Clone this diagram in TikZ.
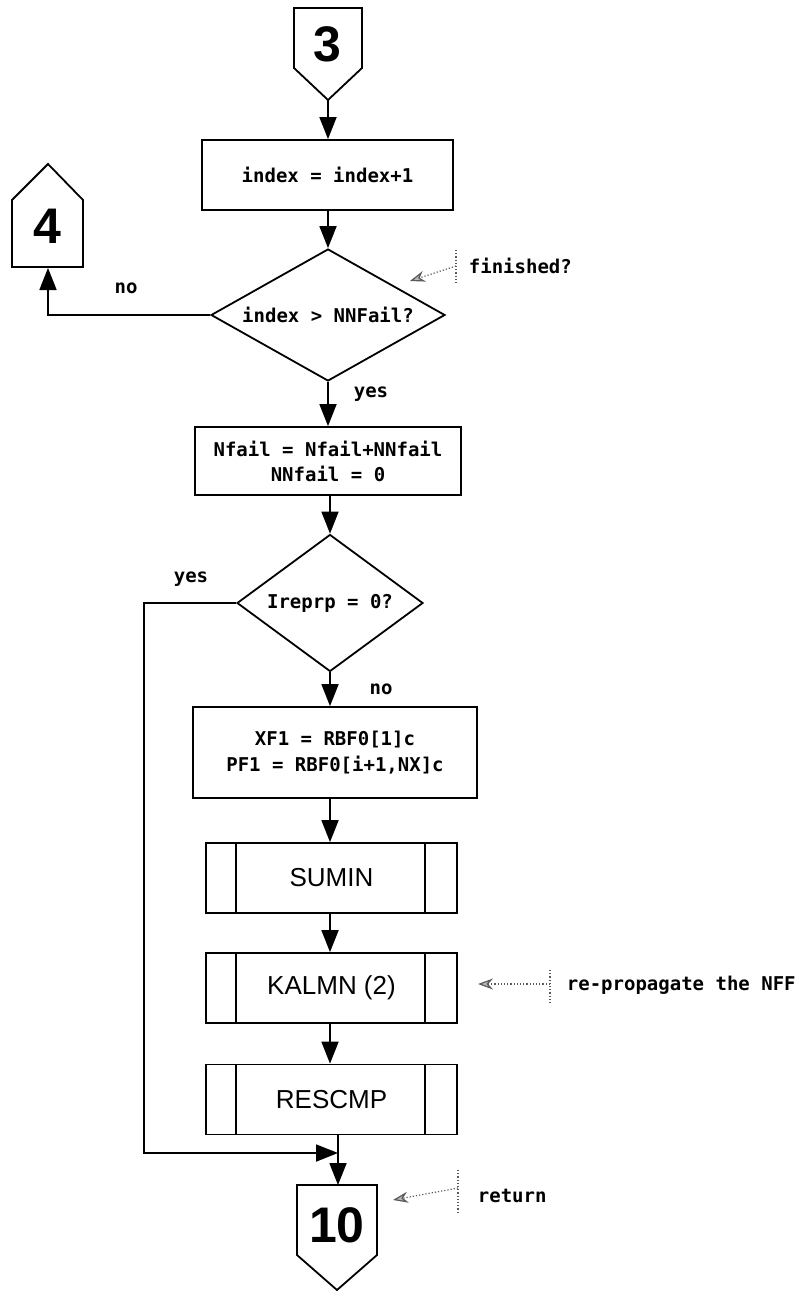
\documentclass[tikz,border=0pt]{standalone}
\usepackage{fontspec}
\newfontfamily\codefont{DejaVu Sans Mono}
\newfontfamily\labelfont{Liberation Sans}
\usetikzlibrary{arrows.meta,shapes.geometric}
\begin{document}
\begin{tikzpicture}[x=1pt,y=-1pt,
  line width=1.8pt,
  flow/.style={-{Triangle[length=22pt,width=17pt]}},
  note/.style={dotted,line width=1.2pt,gray!70!black,-{Stealth[length=15pt,width=11pt,fill=gray!55]}},
  tick/.style={dotted,line width=1.2pt,gray!70!black},
  code/.style={font=\codefont\bfseries\fontsize{19}{24}\selectfont,align=center},
  ann/.style={code,anchor=west,inner sep=0pt},
  proc/.style={draw,code,inner sep=0pt},
  sub/.style={draw,inner sep=0pt,minimum width=251pt,minimum height=70pt,
              font=\labelfont\fontsize{26}{30}\selectfont},
  dec/.style={draw,diamond,code,inner sep=0pt},
  conn/.style={font=\labelfont\bfseries\fontsize{50}{50}\selectfont,inner sep=0pt}]
\useasboundingbox (0,0) rectangle (806,1292);

% off-page connector 3 (entry)
\draw (294,8) -- (362,8) -- (362,68) -- (328,100) -- (294,68) -- cycle;
\node[conn] (c3) at (327,44) {3};
\coordinate (c3tip) at (328,100);

% index increment
\node[proc,minimum width=251pt,minimum height=70pt] (idx) at (327.5,175) {index = index+1};

% loop test
\node[dec,minimum width=234pt,minimum height=132pt,shape aspect=1.77] (d1) at (328,315) {index > NNFail?};

% off-page connector 4
\draw (12,200) -- (48,164) -- (83,200) -- (83,267) -- (12,267) -- cycle;
\node[conn] (c4) at (47,226) {4};
\coordinate (c4bot) at (48,268);
\node[code,inner sep=0pt] (no1) at (126,288) {no};

% annotation: finished?
\coordinate (fintip) at (410,281);
\coordinate (finend) at (456,266);
\coordinate (fintop) at (456,250);
\coordinate (finbot) at (456,284);
\draw[note] (finend) -- (fintip);
\draw[tick] (fintop) -- (finbot);
\node[ann] (fin) at (468,266) {finished?};

% accumulate failures
\node[proc,minimum width=266pt,minimum height=68pt] (acc) at (328,461)
  {Nfail = Nfail+NNfail\\[1pt]NNfail = 0};
\node[code,inner sep=0pt] (yes1) at (371,394) {yes};

% reprocessing test
\node[dec,minimum width=186pt,minimum height=137pt,shape aspect=1.36] (d2) at (330,603) {Ireprp = 0?};
\node[code,inner sep=0pt] (yes2) at (191,579) {yes};
\node[code,inner sep=0pt] (no2) at (381,689) {no};

% initial values
\node[proc,minimum width=284pt,minimum height=91pt] (init) at (335,752.5)
  {XF1 = RBF0[1]c\\[2pt]PF1 = RBF0[i+1,NX]c};

% subprocess calls
\node[sub] (sumin) at (331.5,878) {SUMIN};
\node[sub] (kalmn) at (331.5,988) {KALMN (2)};
\node[sub] (rescmp) at (331.5,1099.5) {RESCMP};
\foreach \n in {sumin,kalmn,rescmp}{
  \draw ([xshift=31pt]\n.north west) -- ([xshift=31pt]\n.south west);
  \draw ([xshift=-33pt]\n.north east) -- ([xshift=-33pt]\n.south east);
}

% annotation: re-propagate
\coordinate (kaltip) at (478,984);
\coordinate (kalend) at (550,984);
\coordinate (kaltop) at (550,970);
\coordinate (kalbot) at (550,1003);
\draw[note] (kalend) -- (kaltip);
\draw[tick] (kaltop) -- (kalbot);
\node[ann] (kalnote) at (566,985) {re-propagate the NFF};

% off-page connector 10 (return)
\draw (297,1185) -- (377,1185) -- (377,1255) -- (337,1290) -- (297,1255) -- cycle;
\node[conn] (c10) at (337,1225) {10};
\coordinate (c10top) at (338,1185);

% annotation: return
\coordinate (rettip) at (393,1200);
\coordinate (retend) at (458,1188);
\coordinate (rettop) at (458,1170);
\coordinate (retbot) at (458,1213);
\draw[note] (retend) -- (rettip);
\draw[tick] (rettop) -- (retbot);
\node[ann] (retnote) at (477,1196) {return};

% flow connectors
\draw[flow] (c3tip) -- (idx.north -| c3tip);
\draw[flow] (idx.south -| d1.north) -- (d1.north);
\draw[flow] (d1.west) -| (c4bot);
\draw[flow] (d1.south) -- (acc.north -| d1.south);
\draw[flow] (acc.south -| d2.north) -- (d2.north);
\draw[flow] (d2.south) -- (init.north -| d2.south);
\draw[flow] (init.south -| d2.south) -- (sumin.north -| d2.south);
\draw[flow] (sumin.south -| d2.south) -- (kalmn.north -| d2.south);
\draw[flow] (kalmn.south -| d2.south) -- (rescmp.north -| d2.south);
\coordinate (ycorner) at (144,1153);
\coordinate (merge) at (338,1153);
\draw[flow] (d2.west) -| (ycorner) -- (merge);
\draw[flow] (rescmp.south -| c10top) -- (c10top);
\end{tikzpicture}
\end{document}
